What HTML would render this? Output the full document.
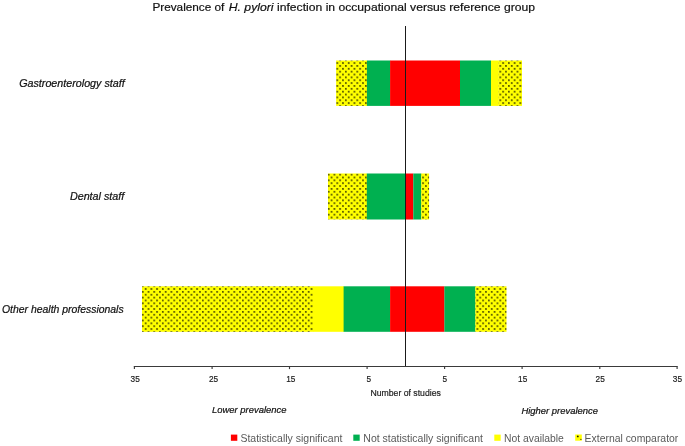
<!DOCTYPE html>
<html lang="en">
<head>
<meta charset="utf-8">
<title>Prevalence of H. pylori infection in occupational versus reference group</title>
<style>
html,body{margin:0;padding:0;background:#fff;}
body{width:685px;height:446px;overflow:hidden;}
svg{display:block;font-family:"Liberation Sans",sans-serif;}
.cat{font-style:italic;font-size:10.6px;fill:#111;stroke:#111;stroke-width:0.22px;}
.tick{font-size:9.2px;fill:#1a1a1a;stroke:#1a1a1a;stroke-width:0.18px;}
.leg{font-size:11.6px;fill:#595959;}
.sub{font-style:italic;font-size:9.7px;fill:#111;stroke:#111;stroke-width:0.22px;}
</style>
</head>
<body>
<svg width="685" height="446" viewBox="0 0 685 446">
<defs>
<pattern id="dots" x="327.8" y="173.7" width="5.72" height="5.72" patternUnits="userSpaceOnUse">
<rect x="0" y="0" width="5.72" height="5.72" fill="#ffff00"/>
<circle cx="0.9" cy="0.9" r="0.8" fill="#0d0d00"/>
<circle cx="3.76" cy="3.76" r="0.8" fill="#0d0d00"/>
</pattern>
</defs>
<rect x="0" y="0" width="685" height="446" fill="#ffffff"/>

<!-- title -->
<text y="10.8" font-size="11.4" fill="#111" stroke="#111" stroke-width="0.2">
<tspan x="152.4" textLength="72" lengthAdjust="spacingAndGlyphs">Prevalence of</tspan>
<tspan x="228.8" font-style="italic" textLength="44.7" lengthAdjust="spacingAndGlyphs">H. pylori</tspan>
<tspan x="277" textLength="258" lengthAdjust="spacingAndGlyphs">infection in occupational versus reference group</tspan>
</text>

<!-- bar 1: Gastroenterology staff -->
<g>
<rect x="336.1" y="60.5" width="31" height="45.4" fill="url(#dots)"/>
<rect x="366.9" y="60.5" width="23.4" height="45.4" fill="#00b050"/>
<rect x="390.1" y="60.5" width="69.9" height="45.4" fill="#ff0000"/>
<rect x="460" y="60.5" width="31" height="45.4" fill="#00b050"/>
<rect x="491" y="60.5" width="7.8" height="45.4" fill="#ffff00"/>
<rect x="498.6" y="60.5" width="23.4" height="45.4" fill="url(#dots)"/>
</g>
<!-- bar 2: Dental staff -->
<g>
<rect x="328" y="173.5" width="39" height="46" fill="url(#dots)"/>
<rect x="366.8" y="173.5" width="38.8" height="46" fill="#00b050"/>
<rect x="405.6" y="173.5" width="7.7" height="46" fill="#ff0000"/>
<rect x="413.3" y="173.5" width="8" height="46" fill="#00b050"/>
<rect x="421.2" y="173.5" width="7.9" height="46" fill="url(#dots)"/>
</g>
<!-- bar 3: Other health professionals -->
<g>
<rect x="142" y="286.3" width="171.2" height="45.5" fill="url(#dots)"/>
<rect x="313" y="286.3" width="31" height="45.5" fill="#ffff00"/>
<rect x="343.6" y="286.3" width="46.6" height="45.5" fill="#00b050"/>
<rect x="390.1" y="286.3" width="54.4" height="45.5" fill="#ff0000"/>
<rect x="444.4" y="286.3" width="31" height="45.5" fill="#00b050"/>
<rect x="475.3" y="286.3" width="31.2" height="45.5" fill="url(#dots)"/>
</g>

<!-- axes -->
<line x1="405.5" y1="26" x2="405.5" y2="366.5" stroke="#1a1a1a" stroke-width="1"/>
<line x1="133.8" y1="366.5" x2="677.7" y2="366.5" stroke="#3a3a3a" stroke-width="1.2"/>
<g stroke="#3a3a3a" stroke-width="1.15">
<line x1="134.4" y1="366.5" x2="134.4" y2="369.1"/>
<line x1="212.1" y1="366.5" x2="212.1" y2="369.1"/>
<line x1="289.5" y1="366.5" x2="289.5" y2="369.1"/>
<line x1="367.1" y1="366.5" x2="367.1" y2="369.1"/>
<line x1="444.6" y1="366.5" x2="444.6" y2="369.1"/>
<line x1="522.1" y1="366.5" x2="522.1" y2="369.1"/>
<line x1="599.8" y1="366.5" x2="599.8" y2="369.1"/>
<line x1="677.1" y1="366.5" x2="677.1" y2="369.1"/>
</g>

<!-- tick labels -->
<g class="tick">
<text x="130.6" y="381.6" textLength="9.2" lengthAdjust="spacingAndGlyphs">35</text>
<text x="208.9" y="381.6" textLength="9.2" lengthAdjust="spacingAndGlyphs">25</text>
<text x="286.2" y="381.6" textLength="9.2" lengthAdjust="spacingAndGlyphs">15</text>
<text x="366.5" y="381.6" textLength="4.6" lengthAdjust="spacingAndGlyphs">5</text>
<text x="442.4" y="381.6" textLength="4.6" lengthAdjust="spacingAndGlyphs">5</text>
<text x="518.1" y="381.6" textLength="9.2" lengthAdjust="spacingAndGlyphs">15</text>
<text x="595.6" y="381.6" textLength="9.2" lengthAdjust="spacingAndGlyphs">25</text>
<text x="672.8" y="381.6" textLength="9.2" lengthAdjust="spacingAndGlyphs">35</text>
</g>

<!-- category labels -->
<g class="cat">
<text x="19.2" y="86.7" textLength="105.5" lengthAdjust="spacingAndGlyphs">Gastroenterology staff</text>
<text x="69.9" y="199.5" textLength="54.4" lengthAdjust="spacingAndGlyphs">Dental staff</text>
<text x="2" y="312.8" textLength="121.6" lengthAdjust="spacingAndGlyphs">Other health professionals</text>
</g>

<!-- axis title & sub labels -->
<text class="tick" x="370.4" y="396.1" textLength="70.5" lengthAdjust="spacingAndGlyphs">Number of studies</text>
<text class="sub" x="212.1" y="412.9" textLength="74.3" lengthAdjust="spacingAndGlyphs">Lower prevalence</text>
<text class="sub" x="521.4" y="413.5" textLength="76.6" lengthAdjust="spacingAndGlyphs">Higher prevalence</text>

<!-- legend -->
<g>
<rect x="230.9" y="434.6" width="6.4" height="6.2" fill="#ff0000"/>
<text class="leg" x="240.4" y="441.8" textLength="102" lengthAdjust="spacingAndGlyphs">Statistically significant</text>
<rect x="353.3" y="434.6" width="6.4" height="6.2" fill="#00b050"/>
<text class="leg" x="363.3" y="441.8" textLength="119.6" lengthAdjust="spacingAndGlyphs">Not statistically significant</text>
<rect x="494.3" y="434.6" width="6.4" height="6.2" fill="#ffff00"/>
<text class="leg" x="504" y="441.8" textLength="59.8" lengthAdjust="spacingAndGlyphs">Not available</text>
<rect x="575.2" y="434.5" width="6.6" height="6.2" fill="#ffff00"/>
<circle cx="577.8" cy="436.4" r="0.95" fill="#1f1e00"/>
<circle cx="580.9" cy="439.4" r="0.6" fill="#3a3900"/>
<text class="leg" x="584.6" y="441.8" textLength="93.7" lengthAdjust="spacingAndGlyphs">External comparator</text>
</g>
</svg>
</body>
</html>
